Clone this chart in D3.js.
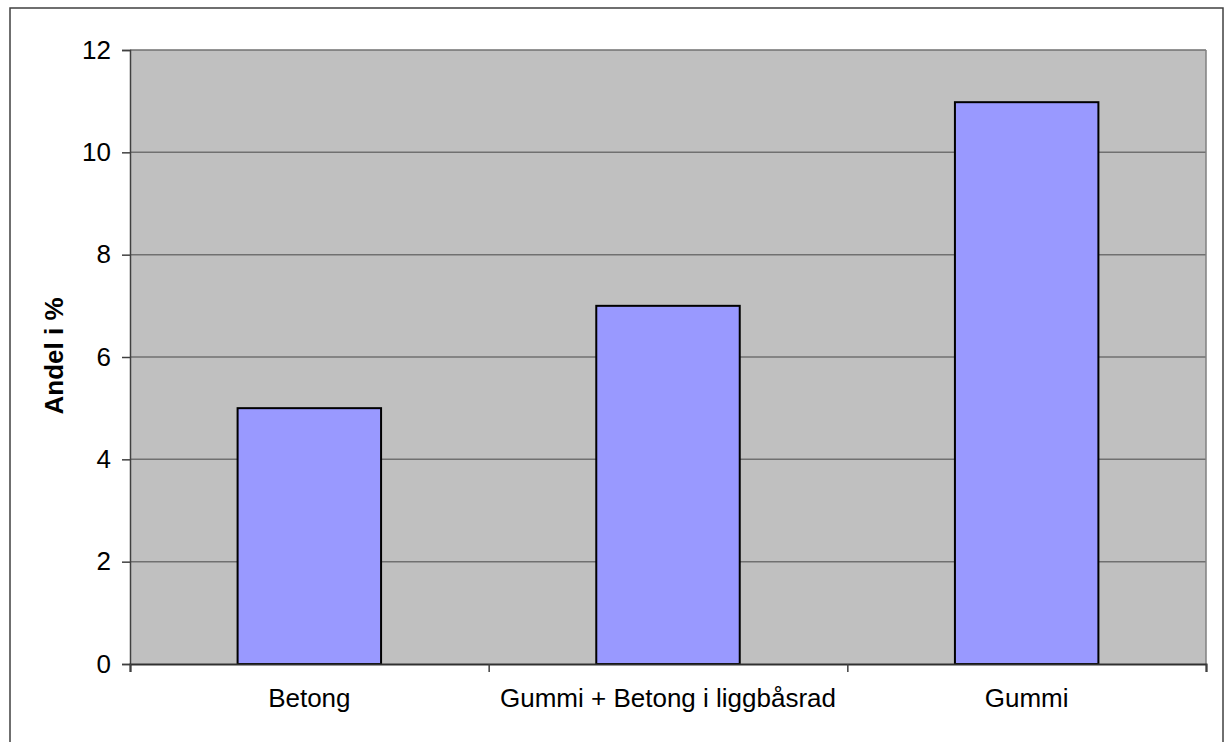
<!DOCTYPE html>
<html>
<head>
<meta charset="utf-8">
<script src="https://cdn.jsdelivr.net/npm/d3@7/dist/d3.min.js"></script>
<style>
  html, body { margin: 0; padding: 0; background: #fff; }
  svg { display: block; }
</style>
</head>
<body>
<svg id="chart" width="1224" height="742"></svg>
<script>
const categories = ["Betong", "Gummi + Betong i liggbåsrad", "Gummi"];
const values = [5, 7, 10.98];
const yTicks = [0, 2, 4, 6, 8, 10, 12];
const yTitle = "Andel i %";

const svg = d3.select("#chart");
const mLeft = 130, mRight = 1206, mTop = 50, mBottom = 664;
const font = "Arial, 'Liberation Sans', sans-serif";

// outer border
svg.append("rect")
  .attr("x", 10).attr("y", 8).attr("width", 1213).attr("height", 745)
  .attr("fill", "#fff").attr("stroke", "#404040").attr("stroke-width", 1.5);

const x = d3.scaleBand().domain(categories).range([mLeft, mRight])
  .paddingInner(0.6).paddingOuter(0.3);
const xEdge = d3.scaleLinear().domain([0, categories.length]).range([mLeft, mRight]);
const y = d3.scaleLinear().domain([0, 12]).range([mBottom, mTop]);

// plot background
svg.append("rect")
  .attr("x", mLeft).attr("y", mTop).attr("width", mRight - mLeft).attr("height", mBottom - mTop)
  .attr("fill", "#C0C0C0");

// gridlines
svg.append("g").selectAll("line").data(yTicks.filter(d => d > 0)).join("line")
  .attr("x1", mLeft).attr("x2", mRight)
  .attr("y1", d => y(d)).attr("y2", d => y(d))
  .attr("stroke", "#707070").attr("stroke-width", 1.5);

// right plot border
svg.append("line")
  .attr("x1", mRight).attr("x2", mRight).attr("y1", mTop).attr("y2", mBottom)
  .attr("stroke", "#808080").attr("stroke-width", 1.5);

// bars
svg.append("g").selectAll("rect").data(values).join("rect")
  .attr("x", (d, i) => x(categories[i]))
  .attr("width", x.bandwidth())
  .attr("y", d => y(d))
  .attr("height", d => y(0) - y(d))
  .attr("fill", "#9999FF")
  .attr("stroke", "#000").attr("stroke-width", 2);

// y axis
const yAxis = svg.append("g").attr("transform", `translate(${mLeft},0)`)
  .call(d3.axisLeft(y).tickValues(yTicks).tickSize(8).tickPadding(11).tickFormat(d3.format("d")));
yAxis.select(".domain").attr("stroke", "#404040").attr("stroke-width", 1.5);
yAxis.selectAll(".tick line").attr("stroke", "#404040").attr("stroke-width", 1.5);
yAxis.selectAll(".tick text").attr("font-family", font).attr("font-size", 26)
  .attr("fill", "#000");

// x axis boundary ticks
const xAxisEdges = svg.append("g").attr("transform", `translate(0,${mBottom})`)
  .call(d3.axisBottom(xEdge).tickValues(d3.range(categories.length + 1)).tickSize(8).tickFormat(""));
xAxisEdges.select(".domain").attr("stroke", "#303030").attr("stroke-width", 2);
xAxisEdges.selectAll(".tick line").attr("stroke", "#404040").attr("stroke-width", 1.5);

// x category labels
const xAxis = svg.append("g").attr("transform", `translate(0,${mBottom})`)
  .call(d3.axisBottom(x).tickSize(0).tickPadding(25));
xAxis.select(".domain").remove();
xAxis.selectAll(".tick text").attr("font-family", font).attr("font-size", 26)
  .attr("fill", "#000");

// y title
svg.append("text")
  .attr("transform", `translate(63,${(mTop + mBottom) / 2 - 1}) rotate(-90)`)
  .attr("text-anchor", "middle")
  .attr("font-family", font).attr("font-size", 26).attr("font-weight", "bold")
  .attr("fill", "#000")
  .text(yTitle);
</script>
</body>
</html>
